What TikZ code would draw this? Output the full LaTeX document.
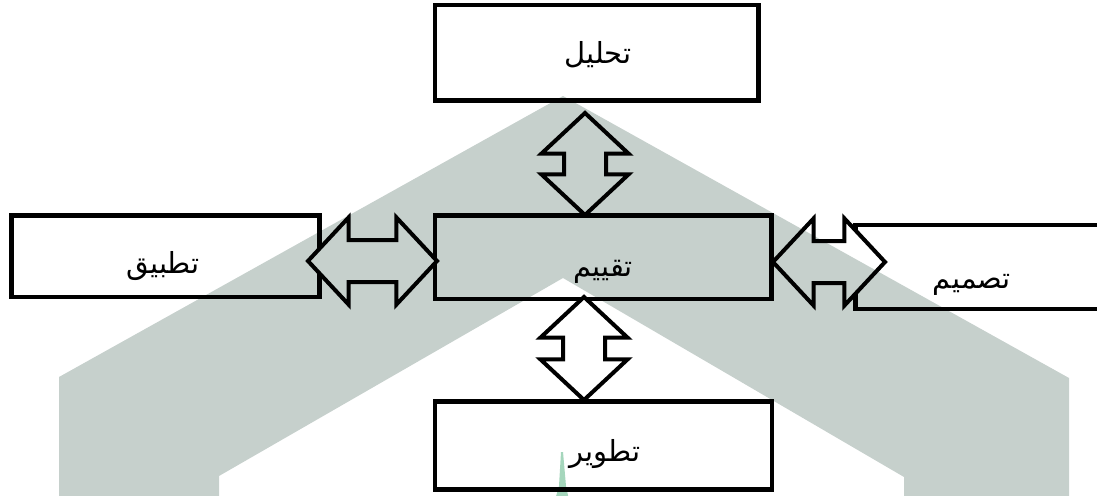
\documentclass[tikz,border=0pt]{standalone}
\usepackage{fontspec}
\usepackage{tikz}
\usetikzlibrary{calc,positioning,shapes.arrows}
\newfontfamily\arabicfont[Script=Arabic]{DejaVu Sans}
\TeXXeTstate=1
\definecolor{wmgray}{RGB}{198,208,204}
\definecolor{wmgreen}{RGB}{165,214,188}
\tikzset{
    stage/.style={draw, line width=4.5pt, fill=white, inner sep=0pt},
    label/.style={inner sep=0pt, font=\arabicfont\fontsize{29}{34}\selectfont},
    dblarrow/.style={double arrow, draw, line width=4pt, fill=white,
        inner xsep=0pt, inner ysep=19pt, double arrow head extend=22.5pt,
        double arrow tip angle=94}
}
\begin{document}
\begin{tikzpicture}[x=1pt,y=-1pt]
    \useasboundingbox (0,0) rectangle (1097,495);

        %%stages
        \node[stage, minimum width=323.5pt, minimum height=95.5pt] (tahlil) at (596.75,52.75) {};
            \node[label] (tahliltxt) at (598,55) {\beginR تحليل\endR};
        \node[stage, minimum width=336.5pt, minimum height=83.5pt] (taqyim) at (603,257) {};
            \node[label] (taqyimtxt) at (603,272) {\beginR تقييم\endR};
        \node[stage, minimum width=308pt, minimum height=81.5pt] (tatbiq) at (165.5,256) {};
            \node[label] (tatbiqtxt) at (163,266) {\beginR تطبيق\endR};
        \node[stage, minimum width=260pt, minimum height=84pt] (tasmim) at (985.5,267) {};
            \node[label] (tasmimtxt) at (972,285) {\beginR تصميم\endR};
        \node[stage, minimum width=337pt, minimum height=88pt] (tatwir) at (603.5,445.5) {};
            \node[label] (tatwirtxt) at (605,454) {\beginR تطوير\endR};

        %%double arrows
        \node[dblarrow, rotate=90, minimum height=102pt] (a1) at (585,164) {};
        \node[dblarrow, rotate=90, minimum height=103pt] (a2) at (584,348.5) {};
        \node[dblarrow, minimum height=129pt] (a3) at (372.5,261) {};
        \node[dblarrow, minimum height=112pt] (a4) at (829,262) {};

        %%watermark
        \begin{scope}[blend mode=multiply]
            \fill[wmgray] (59,500) -- (59,377) -- (563,96) -- (1069,378) -- (1069,500)
                -- (904,500) -- (904,477) -- (563,278) -- (219,476) -- (219,500) -- cycle;
            \fill[wmgreen] (561,452) -- (563,452) -- (566,486) -- (569,500)
                -- (555,500) -- (559,486) -- cycle;
        \end{scope}
\end{tikzpicture}
\end{document}
